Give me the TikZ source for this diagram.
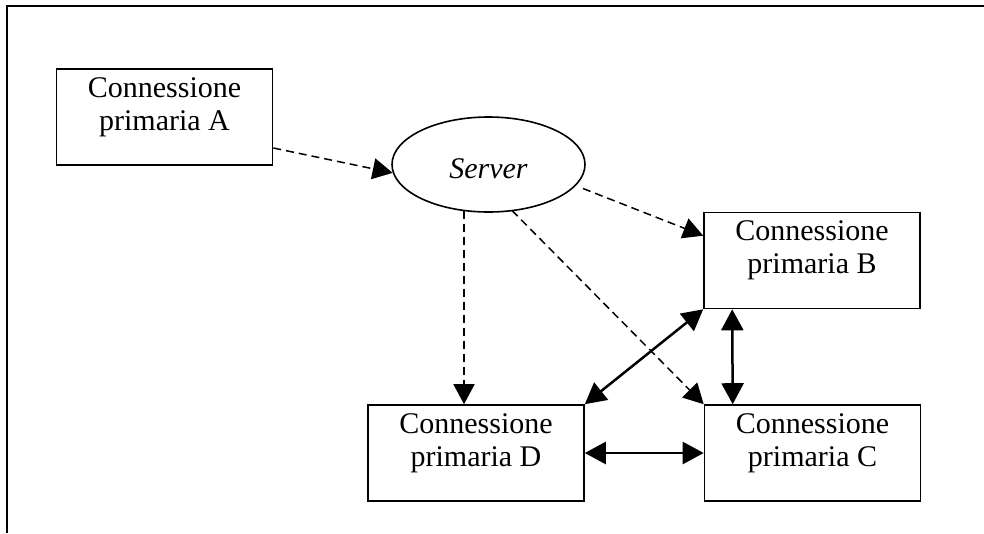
\documentclass[tikz,border=0pt]{standalone}
\usepackage{fontspec}
\setmainfont{Liberation Serif}
\usetikzlibrary{arrows.meta,shapes.geometric,calc}
\begin{document}
\begin{tikzpicture}[x=1pt,y=-1pt,
  box/.style={draw, line width=1.6pt, minimum width=216pt, minimum height=96pt, inner sep=0pt},
  boxtext/.style={anchor=north, align=center, inner sep=0pt, font=\fontsize{30}{33}\selectfont},
  dasharrow/.style={line width=1.5pt, dash pattern=on 8pt off 5pt, -{Triangle[length=20pt,width=21pt]}},
  linkarrow/.style={line width=2.5pt, {Triangle[length=21pt,width=22pt]}-{Triangle[length=21pt,width=22pt]}},
  frame/.style={line width=2pt}]
\useasboundingbox (0,0) rectangle (984,533);

% open frame: top and left sides only
\draw[frame] (984,5.5) -- (7,5.5) -- (7,533);

% the four primary connections
\node[box] (A) at (164.5,117) {};
\node[box] (B) at (812,260.5) {};
\node[box] (C) at (812.5,453) {};
\node[box] (D) at (476,453) {};

\node[boxtext] (Atext) at ($(A.north)+(0,9)$) {Connessione\\primaria A};
\node[boxtext] (Btext) at ($(B.north)+(0,9)$) {Connessione\\primaria B};
\node[boxtext] (Ctext) at ($(C.north)+(0,9)$) {Connessione\\primaria C};
\node[boxtext] (Dtext) at ($(D.north)+(0,9)$) {Connessione\\primaria D};

% the server
\node[ellipse, draw, line width=1.6pt, minimum width=193pt, minimum height=95pt,
      inner sep=0pt, text height=27pt, text depth=0pt,
      font=\fontsize{30}{33}\selectfont\itshape] (Server) at (488.5,164.5) {Server};

% dashed links through the server
\draw[dasharrow] ($(A.east)+(0,31)$) -- (Server.185);
\draw[dasharrow] ($(Server.center)+(94.5,24)$) -- ($(B.north west)+(0,24)$);
\draw[dasharrow] ($(Server.center)+(-24.5,46)$) -- ($(D.north)+(-12,0)$);
\draw[dasharrow] ($(Server.center)+(23.5,46)$) -- (C.north west);

% direct links between connections
\draw[linkarrow] (B.south west) -- (D.north east);
\draw[linkarrow] ($(B.south west)+(29,0)$) -- ($(C.north west)+(29,0)$);
\draw[linkarrow] (D.east) -- (C.west);
\end{tikzpicture}
\end{document}
